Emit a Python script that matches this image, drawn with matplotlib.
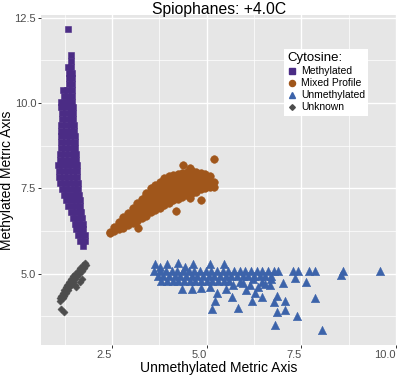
import matplotlib

matplotlib.use("Agg")
import matplotlib.pyplot as plt
import numpy as np
from matplotlib.lines import Line2D

plt.rcParams["font.family"] = ["Liberation Sans", "DejaVu Sans"]

# points, (x, y) per cytosine class
methylated_pts = [
    (1.34, 12.18),
    (1.41, 11.40),
    (1.40, 11.23),
    (1.33, 11.06), (1.42, 11.06),
    (1.36, 10.89), (1.43, 10.89),
    (1.36, 10.72), (1.43, 10.72),
    (1.35, 10.55), (1.44, 10.55),
    (1.19, 10.38), (1.31, 10.38), (1.43, 10.38),
    (1.22, 10.21), (1.34, 10.21), (1.44, 10.21),
    (1.15, 10.04), (1.27, 10.04), (1.38, 10.04), (1.45, 10.04),
    (1.16, 9.87), (1.28, 9.87), (1.40, 9.87), (1.46, 9.87),
    (1.17, 9.70), (1.29, 9.70), (1.41, 9.70), (1.46, 9.70),
    (1.17, 9.53), (1.29, 9.53), (1.41, 9.53), (1.47, 9.53),
    (1.16, 9.36), (1.28, 9.36), (1.40, 9.36), (1.48, 9.36),
    (1.16, 9.19), (1.28, 9.19), (1.40, 9.19), (1.50, 9.19),
    (1.15, 9.02), (1.27, 9.02), (1.39, 9.02), (1.51, 9.02),
    (1.15, 8.85), (1.27, 8.85), (1.39, 8.85), (1.52, 8.85),
    (1.14, 8.68), (1.26, 8.68), (1.38, 8.68), (1.50, 8.68), (1.53, 8.68),
    (1.13, 8.51), (1.25, 8.51), (1.37, 8.51), (1.49, 8.51), (1.54, 8.51),
    (1.12, 8.34), (1.24, 8.34), (1.36, 8.34), (1.48, 8.34), (1.55, 8.34),
    (1.06, 8.17), (1.18, 8.17), (1.30, 8.17), (1.42, 8.17), (1.54, 8.17), (1.56, 8.17),
    (1.10, 8.00), (1.22, 8.00), (1.34, 8.00), (1.46, 8.00), (1.57, 8.00),
    (1.10, 7.83), (1.22, 7.83), (1.34, 7.83), (1.46, 7.83), (1.58, 7.83),
    (1.13, 7.66), (1.25, 7.66), (1.37, 7.66), (1.49, 7.66), (1.60, 7.66),
    (1.17, 7.49), (1.29, 7.49), (1.41, 7.49), (1.53, 7.49), (1.61, 7.49),
    (1.22, 7.32), (1.34, 7.32), (1.46, 7.32), (1.58, 7.32), (1.62, 7.32),
    (1.28, 7.15), (1.40, 7.15), (1.52, 7.15), (1.64, 7.15),
    (1.34, 6.98), (1.46, 6.98), (1.58, 6.98), (1.66, 6.98),
    (1.40, 6.81), (1.52, 6.81), (1.64, 6.81), (1.68, 6.81),
    (1.46, 6.64), (1.58, 6.64), (1.70, 6.64),
    (1.51, 6.47), (1.62, 6.47), (1.72, 6.47),
    (1.55, 6.30), (1.66, 6.30), (1.74, 6.30),
    (1.60, 6.13), (1.70, 6.13), (1.77, 6.13),
    (1.66, 5.96), (1.78, 5.96),
    (1.72, 5.80),
]

mixed_pts = [
    (2.44, 6.18), (2.45, 6.22),
    (2.56, 6.26), (2.56, 6.38),
    (2.68, 6.30), (2.68, 6.45), (2.68, 6.52),
    (2.80, 6.35), (2.80, 6.50), (2.80, 6.66),
    (2.92, 6.42), (2.92, 6.57), (2.92, 6.72), (2.92, 6.78),
    (3.04, 6.48), (3.04, 6.63), (3.04, 6.78), (3.04, 6.92),
    (3.16, 6.54), (3.16, 6.69), (3.16, 6.84), (3.16, 6.99), (3.16, 7.06),
    (3.28, 6.62), (3.28, 6.77), (3.28, 6.92), (3.28, 7.07), (3.28, 7.20),
    (3.40, 6.70), (3.40, 6.85), (3.40, 7.00), (3.40, 7.15), (3.40, 7.30), (3.40, 7.36),
    (3.52, 6.80), (3.52, 6.95), (3.52, 7.10), (3.52, 7.25), (3.52, 7.40), (3.52, 7.52),
    (3.64, 6.86), (3.64, 7.01), (3.64, 7.16), (3.64, 7.31), (3.64, 7.46), (3.64, 7.60),
    (3.76, 6.93), (3.76, 7.08), (3.76, 7.23), (3.76, 7.38), (3.76, 7.53), (3.76, 7.68),
    (3.88, 7.00), (3.88, 7.15), (3.88, 7.30), (3.88, 7.45), (3.88, 7.60), (3.88, 7.75), (3.88, 7.80),
    (4.00, 7.08), (4.00, 7.23), (4.00, 7.38), (4.00, 7.53), (4.00, 7.68), (4.00, 7.85),
    (4.12, 7.15), (4.12, 7.30), (4.12, 7.45), (4.12, 7.60), (4.12, 7.75), (4.12, 7.88),
    (4.24, 7.20), (4.24, 7.35), (4.24, 7.50), (4.24, 7.65), (4.24, 7.80), (4.24, 7.92),
    (4.36, 7.26), (4.36, 7.41), (4.36, 7.56), (4.36, 7.71), (4.36, 7.86), (4.36, 7.95),
    (4.48, 7.32), (4.48, 7.47), (4.48, 7.62), (4.48, 7.77), (4.48, 7.92), (4.48, 7.98),
    (4.60, 7.36), (4.60, 7.51), (4.60, 7.66), (4.60, 7.81), (4.60, 7.96), (4.60, 8.00),
    (4.72, 7.40), (4.72, 7.55), (4.72, 7.70), (4.72, 7.85), (4.72, 7.98),
    (4.84, 7.48), (4.84, 7.63), (4.84, 7.78), (4.84, 7.95),
    (4.96, 7.52), (4.96, 7.67), (4.96, 7.82), (4.96, 7.92),
    (5.08, 7.55), (5.08, 7.70), (5.08, 7.85),
    (5.18, 7.55), (5.18, 7.70),
    (3.19, 6.34), (4.19, 6.83), (4.56, 7.22), (4.86, 7.16),
    (4.38, 8.19), (4.56, 8.10), (5.20, 8.36),
]

unmethylated_pts = [
    (3.62, 5.07), (3.77, 5.07), (3.92, 5.07), (4.07, 5.07), (4.22, 5.07), (4.37, 5.07),
    (4.52, 5.07), (4.67, 5.07), (4.82, 5.07), (4.97, 5.07), (5.12, 5.07), (5.27, 5.07),
    (5.42, 5.07), (5.57, 5.07), (5.72, 5.07), (5.87, 5.07), (6.02, 5.07), (6.17, 5.07),
    (6.32, 5.07), (6.47, 5.07), (6.62, 5.07), (6.77, 5.07), (6.88, 5.07),
    (3.70, 4.93), (3.85, 4.93), (4.00, 4.93), (4.15, 4.93), (4.30, 4.93), (4.45, 4.93),
    (4.60, 4.93), (4.75, 4.93), (4.90, 4.93), (5.05, 4.93), (5.20, 4.93), (5.35, 4.93),
    (5.50, 4.93), (5.65, 4.93), (5.80, 4.93), (5.95, 4.93), (6.10, 4.93), (6.25, 4.93),
    (6.40, 4.93), (6.55, 4.93), (6.70, 4.93),
    (3.80, 4.79), (3.95, 4.79), (4.10, 4.79), (4.25, 4.79), (4.40, 4.79), (4.55, 4.79),
    (4.70, 4.79), (4.85, 4.79), (5.00, 4.79), (5.15, 4.79), (5.30, 4.79), (5.45, 4.79),
    (5.60, 4.79),
    (3.63, 5.29), (3.94, 5.28), (4.25, 5.30), (4.64, 5.28), (5.09, 5.29), (5.45, 5.29),
    (3.76, 5.20), (4.43, 5.20),
    (4.36, 4.56), (4.60, 4.56), (4.86, 4.58), (5.09, 4.62), (5.26, 4.44), (5.22, 4.21),
    (5.15, 3.97), (5.52, 4.56), (5.70, 4.66), (5.66, 4.31), (5.83, 3.99), (5.88, 4.77),
    (5.96, 4.74), (6.05, 4.51), (6.14, 4.66), (6.23, 4.83), (6.27, 4.44), (6.36, 4.61),
    (6.45, 4.31), (6.19, 4.21), (6.45, 4.77), (6.55, 4.69), (6.67, 4.68), (6.71, 4.83),
    (6.86, 4.36), (6.78, 4.17), (7.07, 4.21), (6.86, 3.87), (7.07, 3.94), (7.39, 3.75),
    (6.80, 3.51), (7.02, 4.74), (7.33, 4.87), (7.62, 4.77), (7.28, 5.07), (7.42, 5.07),
    (7.71, 5.07), (7.86, 5.07), (8.59, 5.07), (8.56, 4.95), (9.58, 5.07), (7.86, 4.29),
    (8.05, 3.36),
]

unknown_pts = [
    (1.79, 5.32),
    (1.72, 5.24), (1.81, 5.24),
    (1.66, 5.16), (1.76, 5.16),
    (1.60, 5.08), (1.70, 5.08),
    (1.53, 5.00), (1.63, 5.00),
    (1.47, 4.92), (1.57, 4.92),
    (1.41, 4.84), (1.51, 4.84), (1.70, 4.84),
    (1.36, 4.76), (1.46, 4.76), (1.64, 4.76),
    (1.31, 4.68), (1.41, 4.68), (1.52, 4.68),
    (1.27, 4.60), (1.37, 4.60), (1.55, 4.60),
    (1.23, 4.52), (1.33, 4.52),
    (1.19, 4.44), (1.29, 4.44),
    (1.15, 4.36), (1.24, 4.36),
    (1.12, 4.28), (1.19, 4.28),
    (1.11, 4.20),
    (1.15, 3.97), (1.23, 3.89),
]

class_names = ["Methylated", "Mixed Profile", "Unmethylated", "Unknown"]
class_colors = ["#4B2C85", "#A0561B", "#3C63AA", "#4D4D4D"]
class_markers = ["s", "o", "^", "D"]
class_sizes = [22, 30, 36, 13]

fig = plt.figure(figsize=(3.97, 3.77), dpi=100)
ax = fig.add_axes([41 / 397, 1 - 345 / 377, 356 / 397, 330 / 377])
ax.set_facecolor("#E6E6E6")
for side in ax.spines.values():
    side.set_visible(False)

for pts, color, marker, size in zip(
    [methylated_pts, mixed_pts, unmethylated_pts, unknown_pts], class_colors, class_markers, class_sizes
):
    arr = np.array(pts)
    ax.scatter(arr[:, 0], arr[:, 1], s=size, marker=marker, c=color, edgecolors=color, linewidths=0.4, zorder=3)

ax.set_xlim(0.62, 10.03)
ax.set_ylim(2.91, 12.58)
ax.set_xticks([2.5, 5.0, 7.5, 10.0])
ax.set_yticks([5.0, 7.5, 10.0, 12.5])
ax.set_xticks([1.25, 3.75, 6.25, 8.75], minor=True)
ax.set_yticks([3.75, 6.25, 8.75, 11.25], minor=True)
ax.grid(which="major", color="white", linewidth=1.0, zorder=0)
ax.grid(which="minor", color="white", linewidth=0.5, zorder=0)
ax.set_axisbelow(True)
ax.tick_params(which="major", length=2.5, width=0.7, color="#333333", labelsize=8, labelcolor="#4D4D4D", pad=1)
ax.tick_params(which="minor", length=0)
# x tick labels sit to the left of their ticks in the reference
for label in ax.get_xticklabels():
    label.set_horizontalalignment("right")

fig.text(219 / 397, 1 - 14 / 377, "Spiophanes: +4.0C", ha="center", va="baseline", fontsize=11.3)
fig.text(219 / 397, 1 - 372 / 377, "Unmethylated Metric Axis", ha="center", va="baseline", fontsize=10)
fig.text(7.5 / 397, 0.5 * ((1 - 15 / 377) + (1 - 345 / 377)), "Methylated Metric Axis",
         ha="center", va="center", rotation=90, fontsize=10)

handles = [
    Line2D([], [], linestyle="none", marker=m, color=c, markersize=np.sqrt(s) * 0.8)
    for m, c, s in zip(class_markers, class_colors, class_sizes)
]
legend = ax.legend(
    handles, class_names, title="Cytosine:", loc="upper left", bbox_to_anchor=(0.683, 0.897),
    borderaxespad=0, fontsize=7.5, title_fontsize=9.5, frameon=True, fancybox=False,
    handlelength=0.9, handletextpad=0.4, labelspacing=0.2, borderpad=0.3, alignment="left",
)
legend.get_frame().set_facecolor("white")
legend.get_frame().set_edgecolor("none")
legend.get_frame().set_alpha(1.0)

fig.savefig("out.png", dpi=100)
